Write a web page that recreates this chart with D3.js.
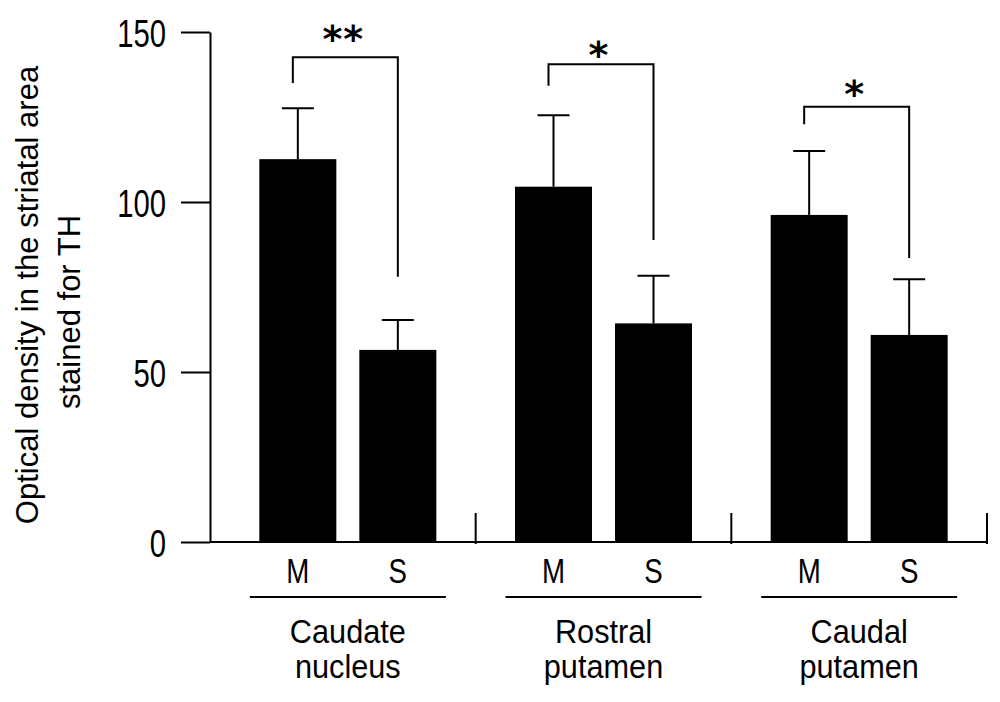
<!DOCTYPE html>
<html>
<head>
<meta charset="utf-8">
<script src="https://cdn.jsdelivr.net/npm/d3@7"></script>
<style>
  body { margin: 0; background: #fff; }
  svg text { font-family: "Liberation Sans", Arial, sans-serif; fill: #000; }
</style>
</head>
<body>
<div id="viz"></div>
<script>
// values
const regions = ["Caudate nucleus", "Rostral putamen", "Caudal putamen"];
const regionLines = [["Caudate", "nucleus"], ["Rostral", "putamen"], ["Caudal", "putamen"]];
const conditions = ["M", "S"];
const meanM = [112.6, 104.5, 96.2];
const meanS = [56.5, 64.3, 60.9];
const sdM = [15.0, 21.0, 18.8];
const sdS = [8.8, 14.0, 16.4];
const yTicks = [0, 50, 100, 150];
// significance brackets: [top, left end, right end] in y units
const bracketTop = [142.6, 140.5, 128.0];
const bracketLeft = [135.0, 134.2, 122.9];
const bracketRight = [78.0, 88.8, 83.5];
const stars = ["**", "*", "*"];
const starLevel = [150.3, 145.6, 134.0];

const width = 1000;
const height = 702;
const axisX = 210;

const svg = d3.select("#viz").append("svg")
    .attr("width", width)
    .attr("height", height);

const yScale = d3.scaleLinear()
    .domain([0, 150])
    .range([542, 32]);

const xGroup = d3.scaleBand()
    .domain(regions)
    .range([220, 987]);

const xCond = d3.scaleBand()
    .domain(conditions)
    .range([-100, 100])
    .paddingInner(0.23)
    .paddingOuter(0.115);

const center = (i, c) => xGroup(regions[i]) + xGroup.bandwidth() / 2 + xCond(c) + xCond.bandwidth() / 2;

// flatten to bars
const bars = [];
regions.forEach((r, i) => {
    bars.push({ i: i, cond: "M", mean: meanM[i], sd: sdM[i] });
    bars.push({ i: i, cond: "S", mean: meanS[i], sd: sdS[i] });
});

// y axis
const yAxis = svg.append("g")
    .attr("transform", `translate(${axisX},0)`)
    .call(d3.axisLeft(yScale).tickValues(yTicks).tickSize(29).tickSizeOuter(0));
yAxis.select(".domain").attr("stroke", "#000").attr("stroke-width", 2);
yAxis.selectAll(".tick line").attr("stroke", "#000").attr("stroke-width", 2);
// narrow, tall digits like the original
yAxis.selectAll(".tick text")
    .attr("x", 0)
    .attr("dy", "0.36em")
    .attr("transform", "translate(-44,0) scale(0.75,1)")
    .style("font-size", "39px");

// x axis line with group separators
svg.append("line")
    .attr("x1", axisX)
    .attr("x2", xGroup.range()[1])
    .attr("y1", yScale(0))
    .attr("y2", yScale(0))
    .attr("stroke", "#000")
    .attr("stroke-width", 2);

svg.selectAll(".sep")
    .data(regions)
    .join("line")
        .attr("class", "sep")
        .attr("x1", d => xGroup(d) + xGroup.bandwidth())
        .attr("x2", d => xGroup(d) + xGroup.bandwidth())
        .attr("y1", yScale(0) + 2)
        .attr("y2", yScale(0) - 29)
        .attr("stroke", "#000")
        .attr("stroke-width", 2);

// bars
svg.selectAll(".bar")
    .data(bars)
    .join("rect")
        .attr("class", "bar")
        .attr("x", d => center(d.i, d.cond) - xCond.bandwidth() / 2)
        .attr("width", xCond.bandwidth())
        .attr("y", d => yScale(d.mean))
        .attr("height", d => yScale(0) - yScale(d.mean))
        .attr("fill", "#000");

// error bars
svg.selectAll(".err")
    .data(bars)
    .join("line")
        .attr("class", "err")
        .attr("x1", d => center(d.i, d.cond))
        .attr("x2", d => center(d.i, d.cond))
        .attr("y1", d => yScale(d.mean))
        .attr("y2", d => yScale(d.mean + d.sd))
        .attr("stroke", "#000")
        .attr("stroke-width", 2);

svg.selectAll(".cap")
    .data(bars)
    .join("line")
        .attr("class", "cap")
        .attr("x1", d => center(d.i, d.cond) - 16)
        .attr("x2", d => center(d.i, d.cond) + 16)
        .attr("y1", d => yScale(d.mean + d.sd))
        .attr("y2", d => yScale(d.mean + d.sd))
        .attr("stroke", "#000")
        .attr("stroke-width", 2);

// significance brackets
const gBr = svg.selectAll(".bracket")
    .data(regions)
    .join("g")
        .attr("class", "bracket");

gBr.append("path")
    .attr("d", (d, i) => {
        const xl = center(i, "M") - 5;
        const xr = center(i, "S");
        return `M${xl},${yScale(bracketLeft[i])}V${yScale(bracketTop[i])}H${xr}V${yScale(bracketRight[i])}`;
    })
    .attr("fill", "none")
    .attr("stroke", "#000")
    .attr("stroke-width", 2);

gBr.append("text")
    .attr("x", (d, i) => (center(i, "M") - 5 + center(i, "S")) / 2 - 2)
    .attr("y", (d, i) => yScale(starLevel[i]))
    .attr("dy", "0.55em")
    .attr("text-anchor", "middle")
    .style("font-family", "'DejaVu Sans', sans-serif")
    .style("font-weight", "bold")
    .style("font-size", "38px")
    .style("letter-spacing", "1px")
    .text((d, i) => stars[i]);

// M / S labels
svg.selectAll(".cond-label")
    .data(bars)
    .join("text")
        .attr("class", "cond-label")
        .attr("text-anchor", "middle")
        .attr("transform", d => `translate(${center(d.i, d.cond)},583) scale(0.79,1)`)
        .style("font-size", "35px")
        .text(d => d.cond);

// group underlines and names
svg.selectAll(".group-line")
    .data(regions)
    .join("line")
        .attr("class", "group-line")
        .attr("x1", d => xGroup(d) + xGroup.bandwidth() / 2 - 98)
        .attr("x2", d => xGroup(d) + xGroup.bandwidth() / 2 + 98)
        .attr("y1", 597)
        .attr("y2", 597)
        .attr("stroke", "#000")
        .attr("stroke-width", 2);

const gName = svg.selectAll(".group-name")
    .data(regions)
    .join("text")
        .attr("class", "group-name")
        .attr("text-anchor", "middle")
        .attr("transform", d => `translate(${xGroup(d) + xGroup.bandwidth() / 2},643) scale(0.93,1)`)
        .style("font-size", "33px");

gName.selectAll("tspan")
    .data((d, i) => regionLines[i])
    .join("tspan")
        .attr("x", 0)
        .attr("y", (d, j) => j * 35)
        .text(d => d);

// y axis title
const yTitle = svg.append("text")
    .attr("transform", "translate(0,295) rotate(-90)")
    .attr("text-anchor", "middle")
    .style("font-size", "31px");
yTitle.append("tspan").attr("x", 0).attr("y", 38).text("Optical density in the striatal area");
yTitle.append("tspan").attr("x", -17).attr("y", 80).text("stained for TH");
</script>
</body>
</html>
